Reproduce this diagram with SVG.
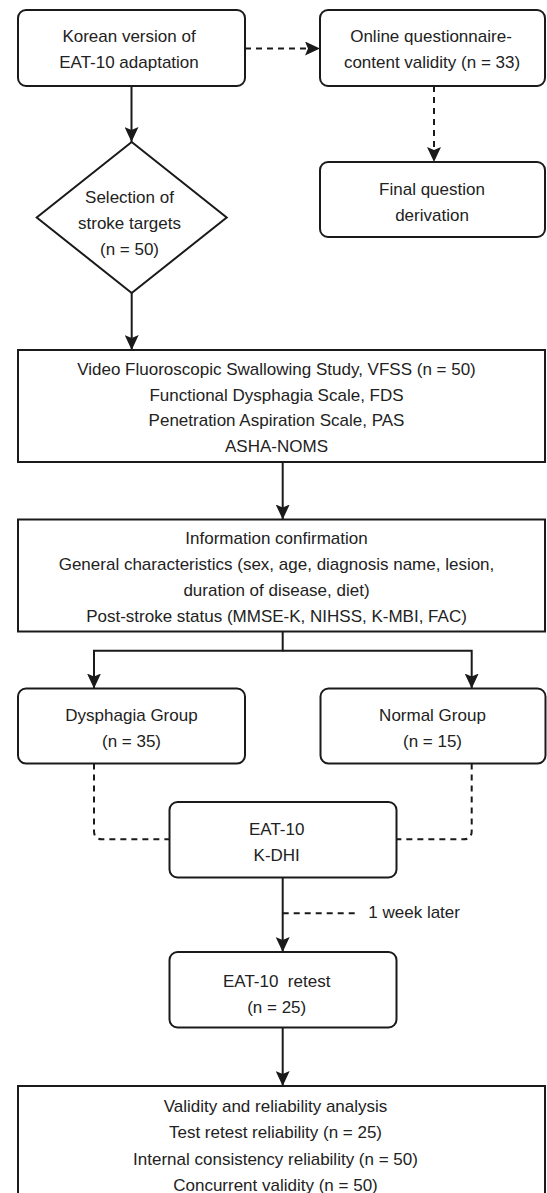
<svg xmlns="http://www.w3.org/2000/svg" width="547" height="1193" viewBox="0 0 547 1193">
<style>
  .box{fill:#fff;stroke:#1a1a1a;stroke-width:2}
  .t{font-family:"Liberation Sans",Arial,sans-serif;font-size:17px;fill:#222;text-anchor:middle}
  .tl{font-family:"Liberation Sans",Arial,sans-serif;font-size:17px;fill:#222;text-anchor:start}
  .s{fill:none;stroke:#1a1a1a;stroke-width:2}
  .d{fill:none;stroke:#1a1a1a;stroke-width:2;stroke-dasharray:6 5}
</style>
<defs>
  <marker id="ah" markerUnits="userSpaceOnUse" markerWidth="16" markerHeight="14" refX="15" refY="7" orient="auto">
    <path d="M0,0 L15,7 L0,14 L3,7 Z" fill="#1a1a1a"/>
  </marker>
</defs>
<rect width="547" height="1193" fill="#fff"/>
<g id="connectors">
  <path class="s" d="M131.5,86 V142" marker-end="url(#ah)"/>
  <path class="d" d="M245,48.5 H320" marker-end="url(#ah)"/>
  <path class="d" d="M434,86 V162" marker-end="url(#ah)"/>
  <path class="s" d="M131.7,293 V350" marker-end="url(#ah)"/>
  <path class="s" d="M282.7,462 V519.5" marker-end="url(#ah)"/>
  <path class="s" d="M282.7,631.5 V650.7 H94 V688.5" marker-end="url(#ah)"/>
  <path class="s" d="M282.7,650.7 H471.7 V688.5" marker-end="url(#ah)"/>
  <path class="d" d="M94,763.5 V831 Q94,839.3 102,839.3 H169.5"/>
  <path class="d" d="M471.7,763.5 V831 Q471.7,839.3 463.7,839.3 H396.7"/>
  <path class="s" d="M282.7,877.5 V952" marker-end="url(#ah)"/>
  <path class="d" d="M282.7,913.3 H355"/>
  <text class="tl" x="368.3" y="918.3">1 week later</text>
  <path class="s" d="M282.7,1027.5 V1086" marker-end="url(#ah)"/>
</g>
<g id="n1">
  <rect class="box" x="18" y="10" width="227" height="76" rx="8"/>
  <text class="t" x="129" y="41.7">Korean version of</text>
  <text class="t" x="129" y="68.3">EAT-10 adaptation</text>
</g>
<g id="n2">
  <rect class="box" x="320" y="10" width="225" height="76" rx="8"/>
  <text class="t" x="431" y="41.7">Online questionnaire-</text>
  <text class="t" x="432" y="68.3">content validity (n = 33)</text>
</g>
<g id="n3">
  <rect class="box" x="320" y="162" width="225" height="75" rx="8"/>
  <text class="t" x="432" y="195">Final question</text>
  <text class="t" x="432" y="221">derivation</text>
</g>
<g id="n4">
  <polygon class="box" points="131.7,142 226.7,217.5 131.7,293 36.7,217.5"/>
  <text class="t" x="129.5" y="203.3">Selection of</text>
  <text class="t" x="129.5" y="229.3">stroke targets</text>
  <text class="t" x="129.5" y="255">(n = 50)</text>
</g>
<g id="n5">
  <rect class="box" x="18" y="350" width="527" height="112"/>
  <text class="t" x="276.5" y="375">Video Fluoroscopic Swallowing Study, VFSS (n = 50)</text>
  <text class="t" x="276.5" y="400.5">Functional Dysphagia Scale, FDS</text>
  <text class="t" x="276.5" y="426">Penetration Aspiration Scale, PAS</text>
  <text class="t" x="276.5" y="451.7">ASHA-NOMS</text>
</g>
<g id="n6">
  <rect class="box" x="18" y="519.5" width="527" height="112"/>
  <text class="t" x="276.5" y="544">Information confirmation</text>
  <text class="t" x="276.5" y="570">General characteristics (sex, age, diagnosis name, lesion,</text>
  <text class="t" x="276.5" y="596">duration of disease, diet)</text>
  <text class="t" x="276.5" y="621.7">Post-stroke status (MMSE-K, NIHSS, K-MBI, FAC)</text>
</g>
<g id="n7">
  <rect class="box" x="18" y="688.5" width="227" height="75" rx="8"/>
  <text class="t" x="131.5" y="720.7">Dysphagia Group</text>
  <text class="t" x="131.5" y="747.3">(n = 35)</text>
</g>
<g id="n8">
  <rect class="box" x="320.5" y="688.5" width="225" height="75" rx="8"/>
  <text class="t" x="432.5" y="720.7">Normal Group</text>
  <text class="t" x="432.5" y="747.3">(n = 15)</text>
</g>
<g id="n9">
  <rect class="box" x="169.5" y="802" width="227" height="75.5" rx="8"/>
  <text class="t" x="276.7" y="835">EAT-10</text>
  <text class="t" x="276.7" y="860.7">K-DHI</text>
</g>
<g id="n10">
  <rect class="box" x="169.5" y="952" width="227" height="75.5" rx="8"/>
  <text class="t" x="276.7" y="987.3" xml:space="preserve">EAT-10  retest</text>
  <text class="t" x="276.7" y="1013.3">(n = 25)</text>
</g>
<g id="n11">
  <rect class="box" x="18" y="1086" width="527" height="115"/>
  <text class="t" x="275.5" y="1112">Validity and reliability analysis</text>
  <text class="t" x="275.5" y="1138">Test retest reliability (n = 25)</text>
  <text class="t" x="275.5" y="1165">Internal consistency reliability (n = 50)</text>
  <text class="t" x="275.5" y="1191">Concurrent validity (n = 50)</text>
</g>
</svg>
